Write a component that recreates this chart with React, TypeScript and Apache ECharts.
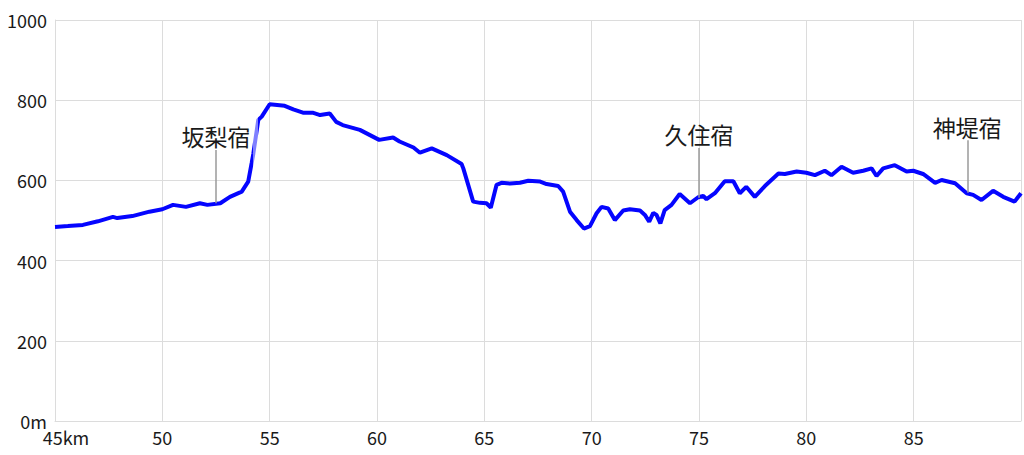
import React, { useEffect, useRef } from "react";
import * as echarts from "echarts";

const distanceKm = [
  45.0, 45.6, 46.3, 47.0, 47.7, 47.9, 48.6, 49.4, 50.0, 50.5, 51.1, 51.75, 52.1, 52.7, 53.15, 53.7, 54.0, 54.16,
  54.24, 54.47, 54.63, 55.0, 55.7, 56.1, 56.55, 57.0, 57.35, 57.8, 58.1, 58.4, 59.2, 60.1, 60.75, 61.05, 61.7,
  62.0, 62.55, 63.25, 63.94, 64.02, 64.48, 64.8, 65.1, 65.3, 65.57, 65.8, 66.2, 66.66, 67.05, 67.6, 67.9, 68.44,
  68.67, 68.99, 69.3, 69.64, 69.92, 70.23, 70.46, 70.77, 71.08, 71.47, 71.78, 72.25, 72.48, 72.68, 72.87, 73.02,
  73.2, 73.4, 73.72, 74.1, 74.58, 74.96, 75.2, 75.35, 75.74, 76.2, 76.6, 76.9, 77.2, 77.6, 78.07, 78.7, 79.0,
  79.55, 80.0, 80.4, 80.86, 81.17, 81.64, 82.18, 82.65, 83.04, 83.27, 83.58, 84.12, 84.67, 84.98, 85.44, 86.0,
  86.3, 86.93, 87.47, 87.77, 88.16, 88.7, 89.17, 89.7, 90.0,
];

const elevationM = [
  484, 486, 489, 498, 509, 506, 511, 522, 528, 539, 534, 543, 539, 543, 559, 572, 597, 643,
  667, 751, 759, 790, 786, 777, 769, 769, 763, 767, 746, 738, 726, 701, 707, 697, 682,
  669, 680, 663, 641, 630, 547, 544, 543, 532, 589, 594, 592, 594, 599, 597, 591, 586,
  572, 522, 501, 480, 486, 518, 534, 530, 501, 525, 528, 525, 514, 497, 519, 514,
  493, 526, 539, 566, 543, 558, 561, 553, 568, 598, 598, 568, 584, 559, 586, 617, 616,
  622, 619, 613, 624, 613, 634, 619, 624, 630, 611, 630, 638, 622, 624, 616, 594,
  601, 593, 568, 564, 551, 574, 559, 547, 568,
];

const stationNames = ["坂梨宿", "久住宿", "神堤宿"];
const stationKm = [52.5, 75.0, 87.5];
const stationBase = [543, 557, 569];
const stationTop = [676, 681, 700];

const FONT = "'Noto Sans CJK JP', 'Noto Sans', sans-serif";

export default function App() {
  const ref = useRef<HTMLDivElement>(null);
  useEffect(() => {
    if (!ref.current) return;
    const chart = echarts.init(ref.current, undefined, { renderer: "svg" });
    const data = distanceKm.map((d, i) => [d, elevationM[i]]);
    chart.setOption({
      animation: false,
      grid: { left: 55, right: 2, top: 20, bottom: 34, containLabel: false },
      xAxis: {
        type: "value",
        min: 45,
        max: 90,
        interval: 5,
        axisLine: { show: true, lineStyle: { color: "#dcdcdc", width: 1 } },
        axisTick: { show: false },
        splitLine: { show: true, lineStyle: { color: "#dcdcdc", width: 1 } },
        axisLabel: {
          color: "#1a1a1a",
          fontSize: 18,
          fontFamily: FONT,
          margin: 7,
          formatter: (v: number) => (v === 45 ? "{a|45km}" : v === 90 ? "" : String(v)),
          rich: { a: { fontSize: 18, fontFamily: FONT, color: "#1a1a1a", padding: [0, 0, 0, 22] } },
        },
      },
      yAxis: {
        type: "value",
        min: 0,
        max: 1000,
        interval: 200,
        axisLine: { show: true, lineStyle: { color: "#dcdcdc", width: 1 } },
        axisTick: { show: false },
        splitLine: { show: true, lineStyle: { color: "#dcdcdc", width: 1 } },
        axisLabel: {
          color: "#1a1a1a",
          fontSize: 18,
          fontFamily: FONT,
          margin: 8,
          formatter: (v: number) => (v === 0 ? "0m" : String(v)),
        },
      },
      visualMap: {
        show: false,
        seriesIndex: 0,
        dimension: 0,
        pieces: [
          { lt: 54.22, color: "#0505ff" },
          { gte: 54.22, lte: 54.46, color: "#8080ff" },
          { gt: 54.46, color: "#0505ff" },
        ],
      },
      series: [
        {
          type: "line",
          data,
          showSymbol: false,
          symbol: "none",
          lineStyle: { width: 4 },
          z: 3,
        },
        {
          type: "line",
          data: [],
          z: 2,
          markLine: {
            silent: true,
            symbol: ["none", "none"],
            lineStyle: { color: "#9a9a9a", width: 1.5, type: "solid" },
            label: {
              show: true,
              position: "end",
              distance: 2,
              color: "#1a1a1a",
              fontSize: 23,
              fontFamily: FONT,
            },
            data: stationNames.map((name, i) => [
              { coord: [stationKm[i], stationBase[i]] },
              { coord: [stationKm[i], stationTop[i]], label: { formatter: name } },
            ]),
          },
        },
      ],
    });
    return () => chart.dispose();
  }, []);
  return <div ref={ref} style={{ position: "fixed", left: 0, top: 0, width: 1024, height: 455, background: "#fff" }} />;
}
